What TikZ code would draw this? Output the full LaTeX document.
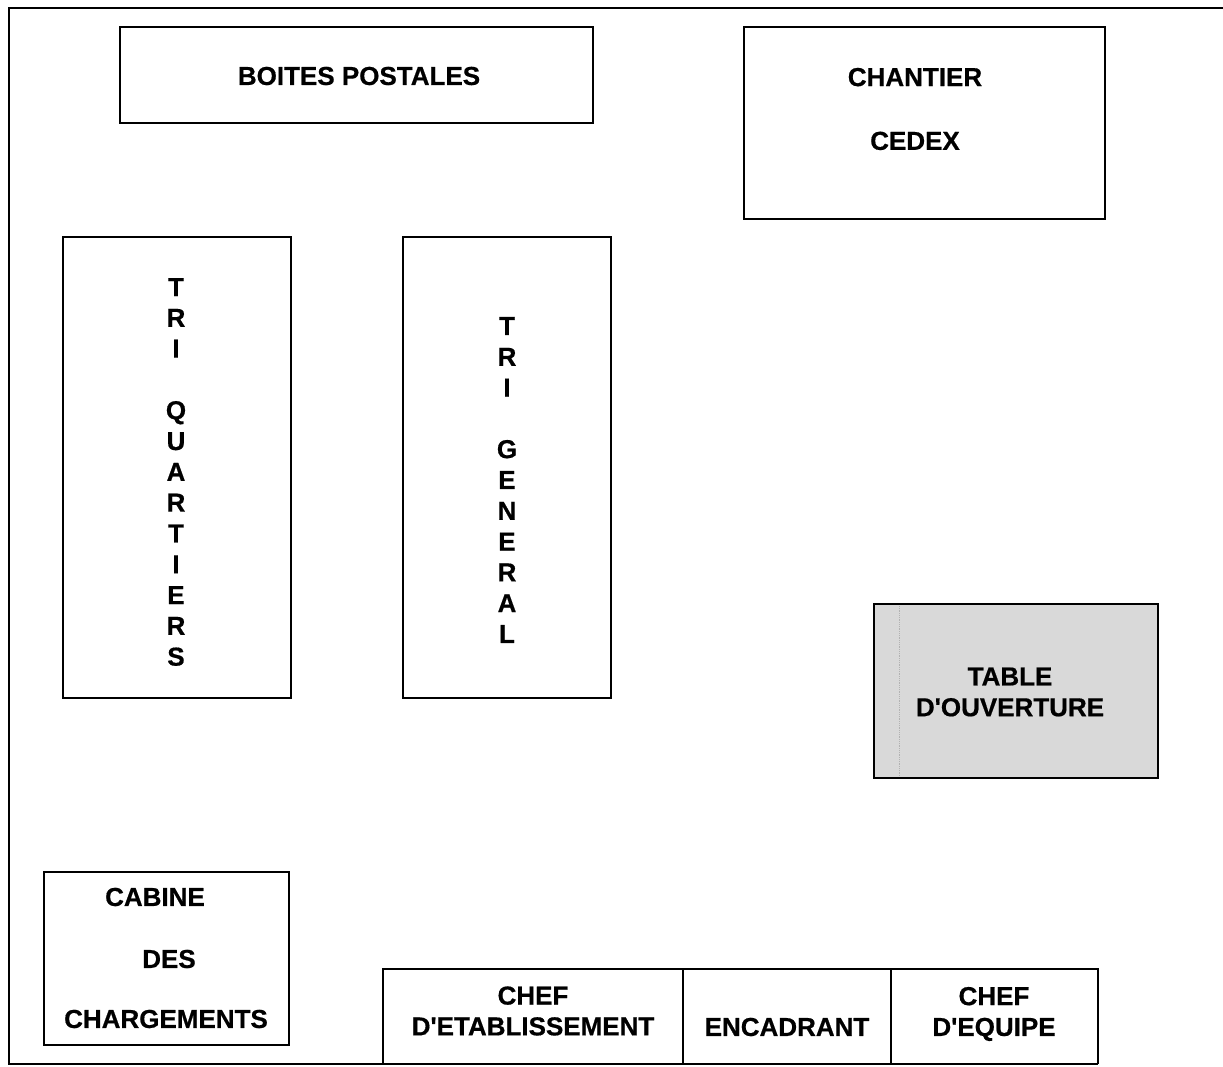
\documentclass[tikz,border=0pt]{standalone}
\usepackage{fontspec}
\setmainfont{Liberation Sans}[BoldFeatures={FakeBold=0.6}]
\begin{document}
\begin{tikzpicture}[x=1pt,y=-1pt,
  box/.style={draw=black,line width=1.6pt,inner sep=0pt},
  lbl/.style={font=\bfseries\fontsize{26}{30.8}\selectfont,align=center,inner sep=0pt},
  frame/.style={draw=black,line width=2pt}]
\useasboundingbox (0,0) rectangle (1223,1066);
% outer frame
\coordinate (fTR) at (1223,8);
\coordinate (fTL) at (9,8);
\coordinate (fBL) at (9,1064);
\coordinate (fBR) at (1098,1064);
\draw[frame] (fTR) -- (fTL) -- (fBL) -- (fBR);
% boxes
\draw[box] (120,27) rectangle (593,123) coordinate (boites);
\draw[box] (744,27) rectangle (1105,219) coordinate (chantier);
\draw[box] (63,237) rectangle (291,698) coordinate (triq);
\draw[box] (403,237) rectangle (611,698) coordinate (trig);
\fill[gray!30] (874,604) rectangle (1158,778);
\draw[gray!60,line width=0.8pt,densely dotted] (899,606) -- (899,776);
\draw[box] (874,604) rectangle (1158,778) coordinate (table);
\draw[box] (44,872) rectangle (289,1045) coordinate (cabine);
\draw[box] (383,1064) |- (1098,969) -- (1098,1064);
\draw[box] (683,969) -- (683,1064);
\draw[box] (891,969) -- (891,1064);
% labels
\node[lbl] (tboites) at (359,76) {BOITES POSTALES};
\node[lbl] (tchantier) at (915,109) {CHANTIER\\[33pt]CEDEX};
\node[lbl] (ttriq) at (176,472) {T\\R\\I\\[30.8pt]Q\\U\\A\\R\\T\\I\\E\\R\\S};
\node[lbl] (ttrig) at (507,480) {T\\R\\I\\[30.8pt]G\\E\\N\\E\\R\\A\\L};
\node[lbl] (ttable) at (1010,692) {TABLE\\D\textquotesingle OUVERTURE};
\node[lbl] (tcab1) at (155,897) {CABINE};
\node[lbl] (tcab2) at (169,959) {DES};
\node[lbl] (tcab3) at (166,1019) {CHARGEMENTS};
\node[lbl] (tchef) at (533,1011) {CHEF\\D\textquotesingle ETABLISSEMENT};
\node[lbl] (tenc) at (787,1027) {ENCADRANT};
\node[lbl] (tequipe) at (994,1014) {CHEF\\D\textquotesingle EQUIPE};
\end{tikzpicture}
\end{document}
